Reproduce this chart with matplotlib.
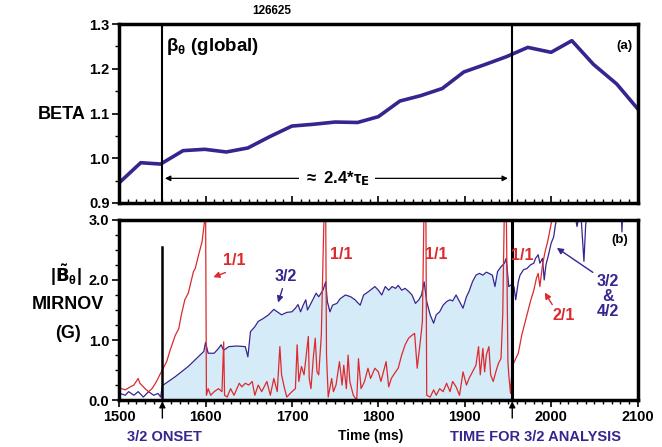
import matplotlib
matplotlib.use("Agg")
import matplotlib.pyplot as plt
from matplotlib.ticker import MultipleLocator, FormatStrFormatter
import numpy as np

plt.rcParams['font.family'] = ['Liberation Sans', 'DejaVu Sans']
plt.rcParams['font.weight'] = 'bold'
plt.rcParams['mathtext.default'] = 'regular'

# beta_theta (global), every 25 ms
beta_t = [1500, 1525, 1548, 1574, 1599, 1624, 1649, 1674, 1700, 1725, 1750, 1776,
          1800, 1825, 1849, 1874, 1899, 1924, 1948, 1973, 2000, 2024, 2049, 2076, 2100]
beta_v = [0.945, 0.99, 0.987, 1.017, 1.02, 1.014, 1.023, 1.048, 1.072, 1.076, 1.081, 1.08,
          1.093, 1.128, 1.14, 1.156, 1.193, 1.21, 1.227, 1.248, 1.237, 1.263, 1.21, 1.166, 1.111]

# Mirnov 1/1 (red)
red_t = [1501, 1507, 1513, 1517, 1522, 1524, 1530, 1534, 1538, 1542, 1545, 1547, 1551, 1555,
         1559, 1565, 1569, 1572, 1576, 1580, 1586, 1588, 1592, 1596, 1599, 1600, 1601, 1603,
         1606, 1610, 1615, 1619, 1621, 1622, 1625, 1629, 1633, 1639, 1642, 1646, 1650, 1654,
         1657, 1661, 1665, 1671, 1675, 1679, 1683, 1686, 1688, 1691, 1694, 1700, 1704, 1706,
         1708, 1711, 1714, 1719, 1720, 1722, 1725, 1727, 1729, 1731, 1734, 1737, 1738, 1739,
         1740, 1742, 1746, 1748, 1751, 1755, 1758, 1760, 1763, 1765, 1767, 1771, 1775, 1777,
         1780, 1784, 1788, 1791, 1796, 1800, 1803, 1805, 1809, 1812, 1815, 1820, 1823, 1827,
         1831, 1835, 1839, 1842, 1845, 1849, 1851, 1853, 1855, 1856, 1860, 1864, 1867, 1871,
         1875, 1879, 1883, 1886, 1890, 1894, 1898, 1902, 1905, 1909, 1913, 1916, 1918, 1921,
         1923, 1925, 1928, 1930, 1933, 1936, 1939, 1942, 1944, 1946, 1948, 1950, 1951, 1953,
         1955, 1959, 1962, 1966, 1969, 1972, 1976, 1980, 1983, 1985, 1987, 1990, 1993, 1996,
         1999, 2001, 2005]
red_v = [0.20, 0.17, 0.22, 0.25, 0.36, 0.28, 0.19, 0.14, 0.19, 0.28, 0.36, 0.42, 0.53, 0.64,
         0.83, 1.08, 1.19, 1.42, 1.67, 1.78, 2.14, 2.19, 2.42, 2.64, 3.0, 3.3, 0.08, 0.19,
         0.08, 0.14, 0.19, 0.14, 0.97, 0.08, 0.05, 0.19, 0.08, 0.28, 0.22, 0.28, 0.25, 0.31,
         0.08, 0.25, 0.14, 0.31, 0.08, 0.36, 0.14, 0.89, 0.42, 0.22, 0.05, 0.14, 0.19, 0.92,
         0.31, 0.56, 0.42, 1.06, 0.36, 0.19, 0.75, 1.03, 0.47, 0.42, 1.08, 3.0, 3.3, 3.3,
         0.75, 0.05, 0.36, 0.14, 0.25, 0.64, 0.25, 0.58, 0.19, 0.75, 0.31, 0.08, 0.0, 0.69,
         0.19, 0.31, 0.53, 0.36, 0.53, 0.47, 0.31, 0.42, 0.64, 0.22, 0.36, 0.47, 0.53, 0.75,
         0.92, 1.03, 1.08, 1.11, 0.53, 1.03, 1.31, 3.3, 3.3, 0.08, 0.05, 0.17, 0.08, 0.19,
         0.14, 0.28, 0.14, 0.31, 0.22, 0.08, 0.47, 0.25, 0.36, 0.47, 0.58, 0.89, 0.42, 0.86,
         0.47, 0.75, 0.89, 0.42, 0.31, 0.47, 0.61, 0.69, 1.42, 3.3, 3.3, 0.64, 0.42, 0.11,
         0.56, 0.69, 0.78, 1.08, 1.25, 1.42, 1.64, 1.83, 2.03, 2.11, 1.89, 2.25, 2.47, 2.64,
         2.86, 3.0, 3.3]

# Mirnov 3/2 (blue)
blue_t = [1501, 1507, 1511, 1517, 1522, 1528, 1534, 1540, 1545, 1548, 1550, 1557, 1565, 1572,
          1580, 1588, 1594, 1598, 1600, 1603, 1610, 1615, 1618, 1621, 1627, 1636, 1646, 1649,
          1652, 1657, 1661, 1667, 1673, 1679, 1683, 1688, 1694, 1700, 1704, 1707, 1710, 1713,
          1716, 1718, 1722, 1728, 1731, 1736, 1739, 1741, 1744, 1747, 1752, 1756, 1762, 1768,
          1773, 1779, 1783, 1789, 1796, 1800, 1804, 1808, 1812, 1816, 1820, 1823, 1827, 1831,
          1835, 1839, 1843, 1847, 1850, 1853, 1856, 1860, 1864, 1867, 1871, 1875, 1879, 1883,
          1886, 1890, 1894, 1898, 1902, 1905, 1909, 1913, 1917, 1921, 1925, 1928, 1932, 1935,
          1938, 1942, 1946, 1948, 1951, 1954, 1957, 1959, 1962, 1964, 1968, 1972, 1976, 1980,
          1982, 1985, 1987, 1990, 1992, 1994, 1997, 2000, 2003, 2005, 2009, 2026, 2030, 2034,
          2038, 2040, 2043, 2081, 2082, 2083, 2100]
blue_v = [0.11, 0.08, 0.14, 0.08, 0.14, 0.05, 0.14, 0.08, 0.11, 0.05, 0.24, 0.31, 0.39, 0.47,
          0.56, 0.67, 0.75, 0.81, 0.96, 0.78, 0.78, 0.86, 0.92, 0.83, 0.89, 0.90, 0.89, 0.72,
          1.14, 1.22, 1.31, 1.36, 1.42, 1.51, 1.47, 1.42, 1.46, 1.47, 1.53, 1.59, 1.47, 1.58,
          1.67, 1.50, 1.61, 1.78, 1.72, 1.83, 1.97, 1.64, 1.47, 1.58, 1.61, 1.69, 1.75, 1.72,
          1.67, 1.58, 1.75, 1.81, 1.89, 1.83, 1.75, 1.89, 1.83, 1.89, 1.86, 1.91, 1.83, 1.86,
          1.81, 1.75, 1.61, 1.67, 1.75, 1.97, 1.64, 1.42, 1.28, 1.42, 1.47, 1.58, 1.64, 1.67,
          1.65, 1.75, 1.64, 1.53, 1.72, 1.81, 1.97, 2.08, 2.11, 2.08, 2.13, 2.11, 2.08, 1.89,
          2.14, 2.22, 2.28, 2.36, 1.89, 1.92, 1.89, 1.67, 1.97, 2.08, 2.17, 2.19, 2.25, 2.28,
          2.36, 2.42, 2.28, 2.36, 2.00, 2.25, 2.42, 2.61, 2.72, 2.92, 3.2, 3.2, 2.89, 3.2,
          2.31, 2.92, 3.2, 3.2, 2.8, 3.2, 3.2]

t_onset = 1550
t_analysis = 1955

NAVY = '#35268f'
RED = '#dc2a2e'
FILL = '#d6ebf8'

fig = plt.figure(figsize=(6.62, 4.47), dpi=100)
ax1 = fig.add_axes([0.180, 0.546, 0.783, 0.400])
ax2 = fig.add_axes([0.180, 0.105, 0.783, 0.403])

for ax in (ax1, ax2):
    ax.set_xlim(1500, 2100)
    for s in ax.spines.values():
        s.set_linewidth(2.5)
    ax.xaxis.set_major_locator(MultipleLocator(100))
    ax.xaxis.set_minor_locator(MultipleLocator(10))
    ax.tick_params(axis='both', which='major', labelsize=10.5, width=1.2, length=5, pad=2)
    ax.tick_params(axis='both', which='minor', width=1, length=3)

# ---- top panel: beta
ax1.plot(beta_t, beta_v, color=NAVY, lw=2.6)
ax1.set_ylim(0.9, 1.3)
ax1.yaxis.set_major_locator(MultipleLocator(0.1))
ax1.yaxis.set_minor_locator(MultipleLocator(0.05))
ax1.yaxis.set_major_formatter(FormatStrFormatter('%.1f'))
ax1.tick_params(axis='x', which='both', direction='in', labelbottom=False)
ax1.axvline(t_onset, color='black', lw=1.5)
ax1.axvline(t_analysis, color='black', lw=1.5)
ax1.text(1554, 1.25, r'$\beta_\theta$ (global)', fontsize=13.5, va='center', ha='left')
ax1.text(2085, 1.25, '(a)', fontsize=9.5, va='center', ha='center')
ax1.annotate('', xy=(1553, 0.955), xytext=(1950, 0.955),
             arrowprops=dict(arrowstyle='<|-|>', color='black', lw=0.9,
                             mutation_scale=8, shrinkA=0, shrinkB=0))
ax1.text(1752, 0.955, r'$\approx$ 2.4*$\tau_\mathbf{E}$', fontsize=12, ha='center', va='center',
         bbox=dict(facecolor='white', edgecolor='none', pad=3))
ax1.text(1677, 1.33, '126625', fontsize=8.5, ha='center', va='center', clip_on=False)
fig.text(0.093, 0.743, 'BETA', fontsize=13, ha='center', va='center')

# ---- bottom panel: Mirnov amplitudes
bt = np.array(blue_t)
bv = np.array(blue_v)
mask = (bt >= t_onset) & (bt <= t_analysis)
ax2.fill_between(bt, 0, bv, where=mask, color=FILL, lw=0)
ax2.plot(blue_t, blue_v, color=NAVY, lw=0.9)
ax2.plot(red_t, red_v, color=RED, lw=0.9)
ax2.set_ylim(0, 3.0)
ax2.yaxis.set_major_locator(MultipleLocator(1.0))
ax2.yaxis.set_minor_locator(MultipleLocator(0.25))
ax2.yaxis.set_major_formatter(FormatStrFormatter('%.1f'))
ax2.tick_params(axis='x', which='both', direction='out')
ax2.plot([t_onset, t_onset], [0, 2.55], color='black', lw=1.8)
ax2.axvline(t_analysis, color='black', lw=2.2)

ax2.text(1633, 2.32, '1/1', color=RED, fontsize=11.5, ha='center', va='center')
ax2.annotate('', xy=(1606, 2.03), xytext=(1626, 2.14),
             arrowprops=dict(arrowstyle='-|>', color=RED, lw=1, mutation_scale=9))
ax2.text(1757, 2.42, '1/1', color=RED, fontsize=11.5, ha='center', va='center')
ax2.text(1867, 2.42, '1/1', color=RED, fontsize=11.5, ha='center', va='center')
ax2.text(1967, 2.40, '1/1', color=RED, fontsize=11.5, ha='center', va='center')
ax2.text(1693, 2.05, '3/2', color=NAVY, fontsize=11.5, ha='center', va='center')
ax2.annotate('', xy=(1683, 1.58), xytext=(1690, 1.90),
             arrowprops=dict(arrowstyle='-|>', color=NAVY, lw=1, mutation_scale=9))
ax2.text(2015, 1.40, '2/1', color=RED, fontsize=11.5, ha='center', va='center')
ax2.annotate('', xy=(1991, 1.83), xytext=(2003, 1.55),
             arrowprops=dict(arrowstyle='-|>', color=RED, lw=1, mutation_scale=9))
ax2.text(2066, 1.73, '3/2\n&\n4/2', color=NAVY, fontsize=11.5, ha='center', va='center',
         linespacing=1.0)
ax2.annotate('', xy=(2004, 2.56), xytext=(2051, 2.10),
             arrowprops=dict(arrowstyle='-|>', color=NAVY, lw=1, mutation_scale=9))
ax2.text(2080, 2.67, '(b)', fontsize=9.5, ha='center', va='center')

fig.text(0.100, 0.385, r'$|\tilde{\mathbf{B}}_\theta|$', fontsize=13, ha='center', va='center')
fig.text(0.103, 0.318, 'MIRNOV', fontsize=13, ha='center', va='center')
fig.text(0.103, 0.255, '(G)', fontsize=13, ha='center', va='center')

# labels under the time axis
for t in (t_onset, t_analysis):
    ax2.annotate('', xy=(t, -0.02), xytext=(t, -0.30), annotation_clip=False,
                 arrowprops=dict(arrowstyle='-|>', color='black', lw=1, mutation_scale=9,
                                 shrinkA=0, shrinkB=0))
fig.text(164 / 662, 1 - 437 / 447, '3/2 ONSET', color=NAVY, fontsize=10.5, ha='center', va='center')
fig.text(535 / 662, 1 - 437 / 447, 'TIME FOR 3/2 ANALYSIS', color=NAVY, fontsize=10.5,
         ha='center', va='center')
fig.text(371 / 662, 1 - 436 / 447, 'Time (ms)', fontsize=10, ha='center', va='center')

fig.savefig('out.png', dpi=100)
